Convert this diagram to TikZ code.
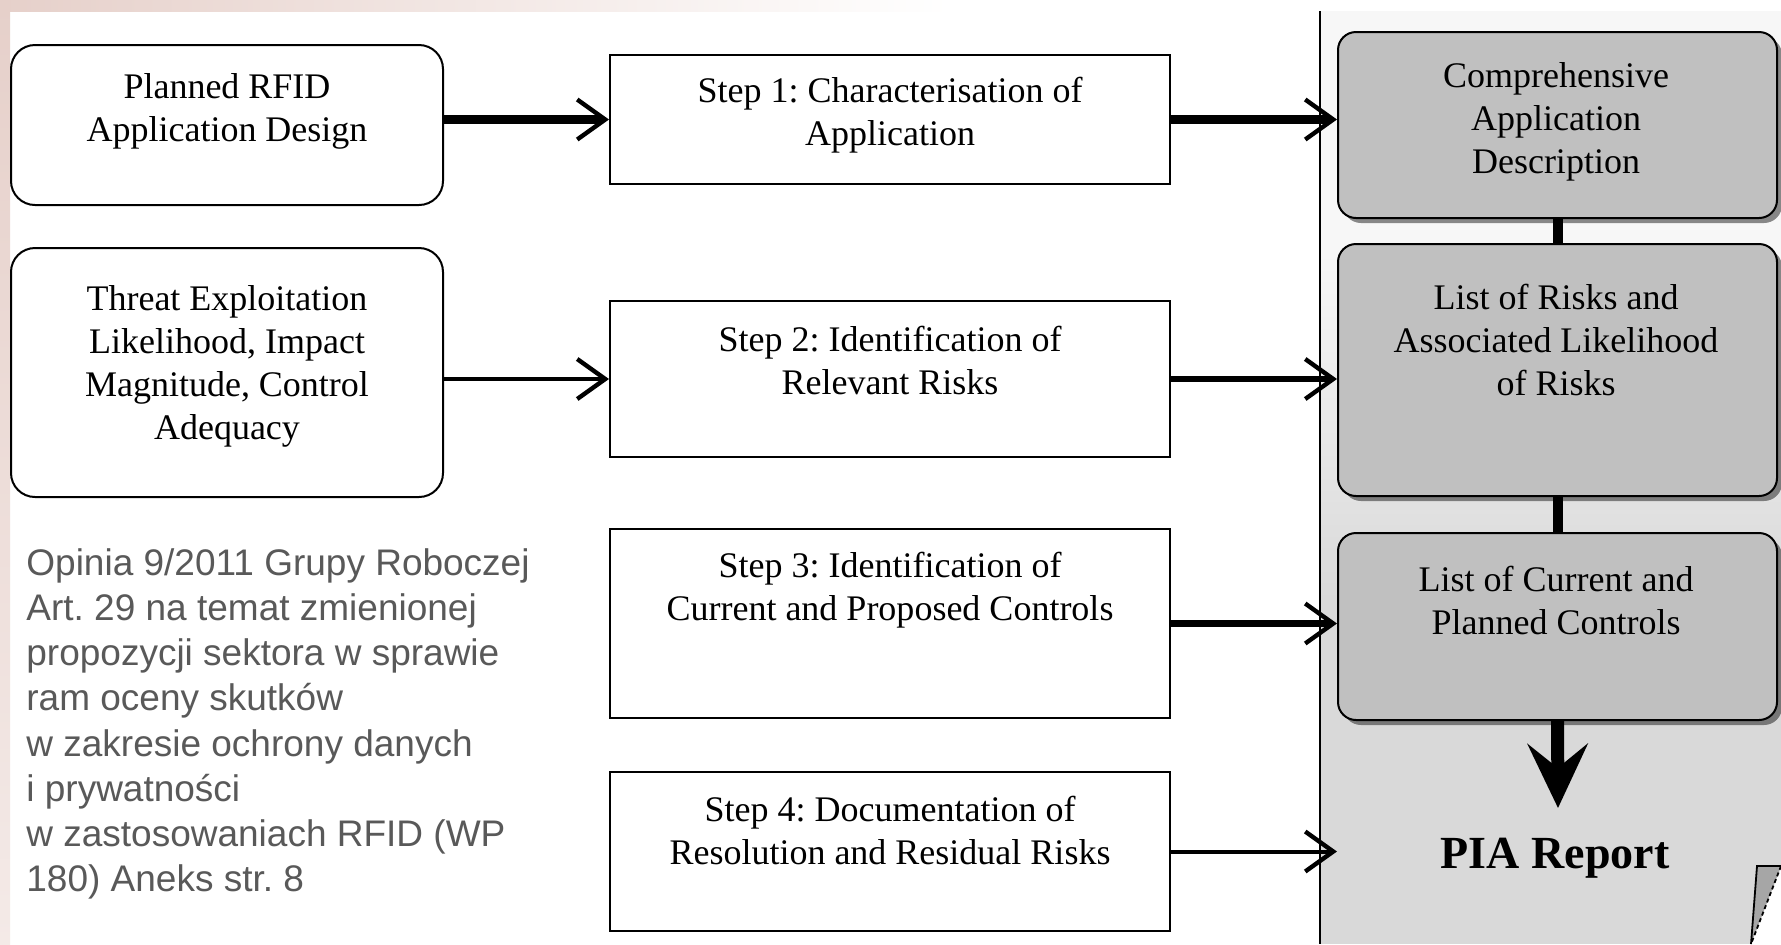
\documentclass[tikz,border=0pt]{standalone}
\usepackage{fontspec}
\setmainfont{Liberation Serif}
\newfontfamily\capfont{Liberation Sans}
\usetikzlibrary{arrows.meta,fit,shadows}
\definecolor{pagegray}{HTML}{D9D9D9}
\definecolor{boxgray}{HTML}{C0C0C0}
\definecolor{capgray}{HTML}{595959}
\definecolor{pinkbg}{HTML}{E6D0CA}
\frenchspacing
\begin{document}
\begin{tikzpicture}[x=0.5pt,y=-0.5pt,
  inbox/.style={draw=black, line width=1pt, rounded corners=12pt, fill=white, inner sep=0pt},
  stepbox/.style={draw=black, line width=1pt, fill=white, inner sep=0pt},
  outbox/.style={draw=black, line width=1pt, rounded corners=9pt, fill=boxgray, inner sep=0pt,
    drop shadow={shadow xshift=2.5pt, shadow yshift=-2.5pt, fill=black, opacity=0.45}},
  lbl/.style={align=center, font=\fontsize{18}{21.5}\selectfont, inner sep=0pt},
  captext/.style={align=left, font=\capfont\fontsize{18.5}{22.6}\selectfont, text=capgray, inner sep=0pt},
  tipA/.style={-{Straight Barb[length=14pt,width=20pt,line width=2.2pt]}},
  thickarrow/.style={tipA, line width=4.5pt},
  midarrow/.style={tipA, line width=3.2pt},
  thinarrow/.style={tipA, line width=2pt},
  linkbar/.style={line width=5pt},
  downarrow/.style={line width=6.5pt, -{Stealth[length=32pt,width=30pt,inset=12pt]}}
]
\useasboundingbox (0,0) rectangle (1781,944);
% background
\fill[white] (0,0) rectangle (1781,944);
\shade[left color=pinkbg, right color=white] (0,0) rectangle (950,11);
\shade[top color=pinkbg, bottom color=pinkbg!45!white] (0,0) rectangle (10,944);
% PIA report page
\fill[white!97!black] (1320,11) rectangle (1781,250);
\shade[top color=white!97!black, bottom color=pagegray] (1320,249) rectangle (1781,600);
\fill[pagegray] (1320,599) rectangle (1781,944);
\draw[line width=1pt] (1320,11) -- (1320,944);
\fill[white] (1781,868) -- (1751,944) -- (1781,944) -- cycle;
\fill[black!35] (1757,866) -- (1781,866) -- (1751,944) -- cycle;
\draw[line width=0.9pt] (1781,866) -- (1757,866) -- (1751,944);
\draw[line width=0.9pt, dashed, dash pattern=on 2pt off 1.5pt] (1781,866) -- (1751,944);

% input boxes
\node[inbox, fit={(11,45) (443,205)}] (A) {};
\node[inbox, fit={(11,248) (443,497)}] (B) {};
% step boxes
\node[stepbox, fit={(610,55) (1170,184)}] (S1) {};
\node[stepbox, fit={(610,301) (1170,457)}] (S2) {};
\node[stepbox, fit={(610,529) (1170,718)}] (S3) {};
\node[stepbox, fit={(610,772) (1170,931)}] (S4) {};
% output boxes
\node[outbox, fit={(1338,32) (1777,218)}] (C1) {};
\node[outbox, fit={(1338,244) (1777,496)}] (C2) {};
\node[outbox, fit={(1338,533) (1777,720)}] (C3) {};

% texts
\node[lbl] (tA) at (227,111) {Planned RFID\\Application Design};
\node[lbl] (tB) at (227,366) {Threat Exploitation\\Likelihood, Impact\\Magnitude, Control\\Adequacy};
\node[lbl] (tS1) at (890,115) {Step 1: Characterisation of\\Application};
\node[lbl] (tS2) at (890,360) {Step 2: Identification of\\Relevant Risks};
\node[lbl] (tS3) at (890,590) {Step 3: Identification of\\Current and Proposed Controls};
\node[lbl] (tS4) at (890,830) {Step 4: Documentation of\\Resolution and Residual Risks};
\node[lbl] (tC1) at (1556,122) {Comprehensive\\Application\\Description};
\node[lbl] (tC2) at (1556,340) {List of Risks and\\Associated Likelihood\\of Risks};
\node[lbl] (tC3) at (1556,600) {List of Current and\\Planned Controls};
\node[inner sep=0pt, font=\bfseries\fontsize{23}{27}\selectfont] (pia) at (1555,858) {PIA Report};
\coordinate (dnend) at (1558,808);

% caption
\node[captext, anchor=north west] (capt) at (26,548) {Opinia 9/2011 Grupy Roboczej\\
Art. 29 na temat zmienionej\\
propozycji sektora w sprawie\\
ram oceny skutków\\
w zakresie ochrony danych\\
i prywatności\\
w zastosowaniach RFID (WP\\
180) Aneks str. 8};

% connectors
\draw[thickarrow] (A.east |- S1.west) -- (S1.west);
\draw[thinarrow] (B.east |- S2.west) -- (S2.west);
\draw[thickarrow] (S1.east) -- (S1.east -| C1.west);
\draw[midarrow] (S2.east) -- (S2.east -| C2.west);
\draw[midarrow] (S3.east) -- (S3.east -| C3.west);
\draw[thinarrow] (S4.east) -- (S4.east -| C3.west);
\draw[linkbar] (C1.south) -- (C2.north);
\draw[linkbar] (C2.south) -- (C3.north);
\draw[downarrow] (C3.south) -- (dnend);
\end{tikzpicture}
\end{document}
